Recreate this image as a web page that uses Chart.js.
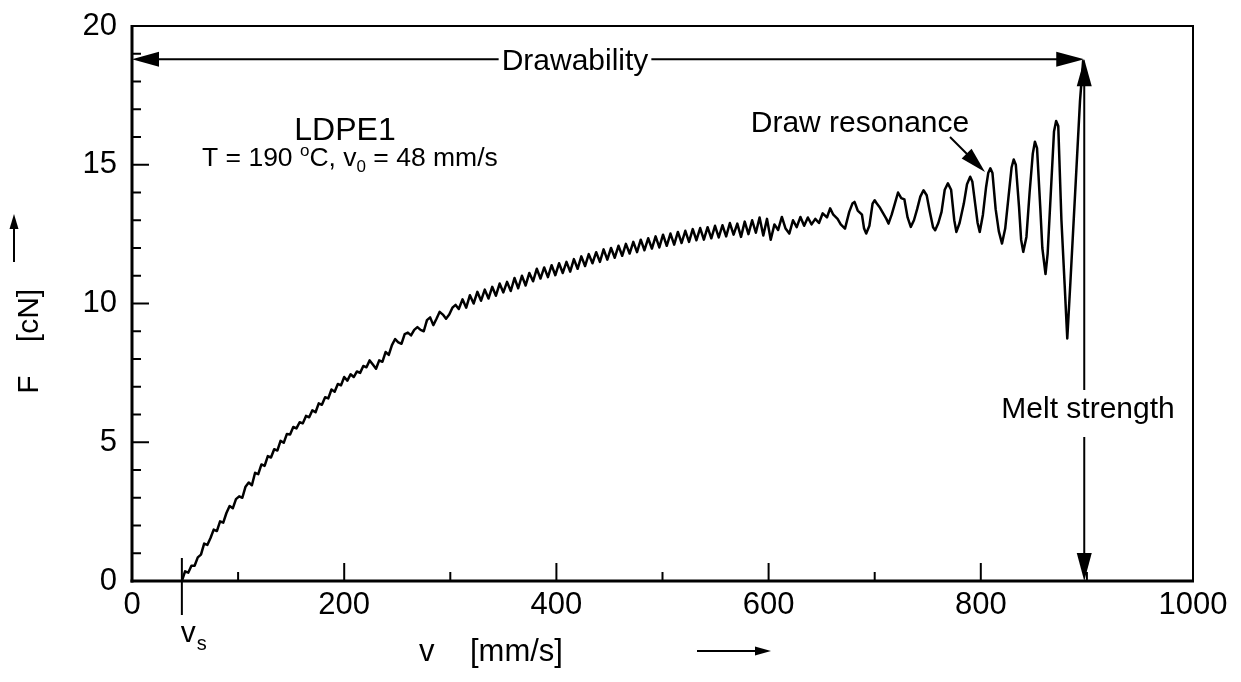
<!DOCTYPE html>
<html>
<head>
<meta charset="utf-8">
<script src="https://cdn.jsdelivr.net/npm/chart.js@4.4.1/dist/chart.umd.min.js"></script>
<style>
  html, body { margin: 0; padding: 0; background: #fff; }
  canvas { display: block; }
</style>
</head>
<body>
<canvas id="chart" width="1241" height="682"></canvas>
<script>
// tick labels
const vTicks = [0, 200, 400, 600, 800, 1000];
const fTicks = [0, 5, 10, 15, 20];

// start-up ramp (v in mm/s, F in cN)
const rampV = [47, 50, 53, 56, 59, 62, 65, 68, 71, 74, 77, 80, 83, 86, 89, 92, 95, 98, 101, 104,
  107, 110, 113, 116, 119, 122, 125, 128, 131, 134, 137, 140, 143, 146, 149, 152, 155, 158, 161, 164,
  167, 170, 173, 176, 179, 182, 185, 188, 191, 194, 197, 200, 203, 206, 209, 212, 215, 218, 221, 224,
  227, 230, 233, 236, 239, 242, 245, 248, 251, 254, 257, 260, 263, 266, 269, 272, 275, 278, 281, 284,
  287, 290, 293, 296, 299, 302, 305, 308];
const rampF = [0.00, 0.35, 0.30, 0.55, 0.55, 0.85, 0.95, 1.35, 1.30, 1.55, 1.85, 1.80, 2.15, 2.10, 2.45, 2.70, 2.62, 2.95, 3.05, 3.00,
  3.40, 3.55, 3.45, 3.90, 3.85, 4.20, 4.15, 4.50, 4.45, 4.75, 4.70, 5.05, 4.98, 5.30, 5.28, 5.55, 5.50, 5.72, 5.68, 5.95,
  5.90, 6.15, 6.08, 6.40, 6.35, 6.62, 6.58, 6.90, 6.82, 7.10, 7.05, 7.35, 7.22, 7.45, 7.35, 7.55, 7.50, 7.75, 7.70, 7.95,
  7.80, 7.65, 7.95, 7.90, 8.25, 8.15, 8.50, 8.72, 8.60, 8.55, 8.90, 8.95, 8.85, 9.05, 9.15, 9.05, 9.00, 9.40, 9.50, 9.22,
  9.45, 9.70, 9.60, 9.45, 9.60, 9.85, 9.95, 9.80];

// steady drawing with fine ripple
const rippleV = [311.5, 315, 318.5, 322, 325.5, 329, 332.5, 336, 339.5, 343,
  346.5, 350, 353.5, 357, 360.5, 364, 367.5, 371, 374.5, 378,
  381.5, 385, 388.5, 392, 395.5, 399, 402.5, 406, 409.5, 413,
  416.5, 420, 423.5, 427, 430.5, 434, 437.5, 441, 444.5, 448,
  451.5, 455, 458.5, 462, 465.5, 469, 472.5, 476, 479.5, 483,
  486.5, 490, 493.5, 497, 500.5, 504, 507.5, 511, 514.5, 518,
  521.5, 525, 528.5, 532, 535.5, 539, 542.5, 546, 549.5, 553,
  556.5, 560, 563.5, 567, 570.5, 574, 577.5, 581, 584.5, 588,
  591.5, 595, 598.5, 602, 605.5, 609, 612.5, 616, 619.5, 623,
  626.5, 630, 633.5, 637, 640.5, 644, 647.5, 651];
const rippleF = [10.15, 9.85, 10.30, 10.00, 10.42, 10.10, 10.50, 10.18, 10.60, 10.28,
  10.72, 10.40, 10.78, 10.45, 10.92, 10.55, 11.00, 10.65, 11.10, 10.80,
  11.25, 10.90, 11.30, 10.95, 11.38, 11.02, 11.45, 11.10, 11.50, 11.15,
  11.60, 11.25, 11.70, 11.35, 11.78, 11.45, 11.85, 11.50, 11.95, 11.58,
  12.00, 11.65, 12.08, 11.72, 12.15, 11.80, 12.22, 11.85, 12.30, 11.92,
  12.35, 11.98, 12.42, 12.02, 12.48, 12.08, 12.52, 12.12, 12.58, 12.18,
  12.62, 12.22, 12.68, 12.28, 12.72, 12.30, 12.75, 12.35, 12.80, 12.38,
  12.82, 12.42, 12.90, 12.48, 12.88, 12.40, 12.95, 12.50, 13.00, 12.55,
  13.10, 12.45, 13.05, 12.30, 12.85, 12.65, 13.12, 12.70, 12.52, 13.00,
  12.75, 13.12, 12.80, 13.10, 12.85, 13.05, 12.90, 13.25];

// draw resonance until the filament breaks
const resonanceV = [655, 658, 661, 665, 668, 672, 676, 679, 681, 684,
  688, 690, 692, 695, 698, 700, 702, 705, 708, 711,
  713, 716, 719, 722, 725, 728, 731, 734, 737, 740,
  743, 746, 749, 752, 755, 757, 760, 763, 766, 769,
  772, 775, 777, 780, 784, 787, 790, 792, 795, 797,
  799, 802, 805, 807, 809, 811, 814, 817, 820, 823,
  826, 829, 831, 833, 836, 838, 840, 843, 846, 849,
  851, 853, 856, 858, 861, 863, 866, 869, 871, 873,
  876, 879, 881.5, 884.5, 889.5, 893.5, 896.5];
const resonanceF = [13.10, 13.43, 13.20, 13.05, 12.85, 12.70, 13.30, 13.60, 13.66, 13.35,
  13.20, 12.70, 12.52, 12.80, 13.60, 13.72, 13.60, 13.45, 13.25, 13.05,
  12.88, 13.20, 13.60, 14.00, 13.80, 13.75, 13.10, 12.76, 13.00, 13.40,
  13.85, 14.08, 13.90, 13.30, 12.75, 12.64, 12.90, 13.30, 14.10, 14.33,
  14.10, 13.00, 12.58, 12.90, 13.60, 14.30, 14.57, 14.40, 13.50, 12.90,
  12.58, 13.20, 14.20, 14.70, 14.87, 14.70, 13.40, 12.60, 12.16, 12.70,
  13.80, 14.90, 15.19, 15.00, 13.50, 12.30, 11.86, 12.40, 14.00, 15.40,
  15.83, 15.60, 13.50, 12.00, 11.06, 11.80, 14.00, 16.20, 16.58, 16.40,
  13.00, 10.70, 8.74, 10.80, 14.40, 17.30, 18.77];

// markers
const vStart = 47;          // v_s
const drawabilityF = 18.8;  // level of the drawability arrow
const breakV = 897.5;       // melt strength arrow

const velocity = rampV.concat(rippleV, resonanceV);
const force = rampF.concat(rippleF, resonanceF);

const FONT = '"Liberation Sans", Arial, Helvetica, sans-serif';

function head(ctx, x, y, ang, len, half) {
  ctx.save();
  ctx.translate(x, y);
  ctx.rotate(ang);
  ctx.beginPath();
  ctx.moveTo(0, 0);
  ctx.lineTo(-len, -half);
  ctx.lineTo(-len, half);
  ctx.closePath();
  ctx.fill();
  ctx.restore();
}

function line(ctx, x1, y1, x2, y2, w) {
  ctx.lineWidth = w;
  ctx.beginPath();
  ctx.moveTo(x1, y1);
  ctx.lineTo(x2, y2);
  ctx.stroke();
}

const decor = {
  id: 'decor',
  afterDraw(chart) {
    const ctx = chart.ctx;
    const a = chart.chartArea;
    const xs = chart.scales.x, ys = chart.scales.y;
    ctx.save();
    ctx.strokeStyle = '#000';
    ctx.fillStyle = '#000';
    ctx.lineCap = 'butt';

    // frame
    line(ctx, a.left, a.top, a.right + 1, a.top, 2);
    line(ctx, a.right, a.top, a.right, a.bottom, 2);
    line(ctx, a.left, a.top - 1, a.left, a.bottom + 1.5, 3);
    line(ctx, a.left - 1.5, a.bottom, a.right + 1, a.bottom, 3);

    // ticks, pointing inwards
    for (let v = 100; v < 1000; v += 100) {
      const x = xs.getPixelForValue(v);
      line(ctx, x, a.bottom, x, a.bottom - (v % 200 === 0 ? 18 : 9), 2);
    }
    for (let f = 1; f < 20; f++) {
      const y = ys.getPixelForValue(f);
      line(ctx, a.left, y, a.left + (f % 5 === 0 ? 17 : 9), y, 2);
    }

    // v_s marker
    const xv = xs.getPixelForValue(vStart);
    line(ctx, xv, a.bottom - 23, xv, a.bottom + 34, 2);
    ctx.textAlign = 'left';
    ctx.textBaseline = 'alphabetic';
    ctx.font = '30px ' + FONT;
    ctx.fillText('v', xv - 1, 642);
    ctx.font = '20px ' + FONT;
    ctx.fillText('s', xv + 15, 650);

    // drawability arrow
    const yd = ys.getPixelForValue(drawabilityF);
    const xb = xs.getPixelForValue(breakV);
    ctx.font = '30px ' + FONT;
    const dText = 'Drawability';
    const dw = ctx.measureText(dText).width;
    const dCx = 575;
    line(ctx, a.left + 20, yd, dCx - dw / 2 - 3, yd, 2);
    line(ctx, dCx + dw / 2 + 3, yd, xb - 20, yd, 2);
    head(ctx, a.left, yd, Math.PI, 27, 7.5);
    head(ctx, xb, yd, 0, 28, 7.5);
    ctx.textAlign = 'center';
    ctx.fillText(dText, dCx, yd + 11);

    // melt strength arrow
    const y0 = ys.getPixelForValue(0);
    line(ctx, xb, yd + 20, xb, 390, 2);
    line(ctx, xb, 437, xb, y0 - 20, 2);
    head(ctx, xb, yd, -Math.PI / 2, 27, 7.5);
    head(ctx, xb, y0, Math.PI / 2, 28, 7.5);
    ctx.fillText('Melt strength', 1088, 418);

    // draw resonance
    ctx.fillText('Draw resonance', 860, 132);
    const ang = Math.atan2(172 - 137, 985 - 950);
    line(ctx, 950, 137, 975, 162, 2);
    head(ctx, 985, 172, ang, 26, 7);

    // sample info
    ctx.font = '32px ' + FONT;
    ctx.fillText('LDPE1', 345, 140);
    ctx.textAlign = 'left';
    let x = 202;
    const yb = 166;
    const put = (s, size, dy) => {
      ctx.font = size + 'px ' + FONT;
      ctx.fillText(s, x, yb + dy);
      x += ctx.measureText(s).width;
    };
    put('T = 190 ', 26.5, 0);
    put('o', 17, -10);
    put('C, v', 26.5, 0);
    put('0', 17, 6);
    put(' = 48 mm/s', 26.5, 0);

    // axis titles
    ctx.font = '31px ' + FONT;
    ctx.textAlign = 'left';
    ctx.fillText('v', 419, 661);
    ctx.fillText('[mm/s]', 470, 661);
    line(ctx, 697, 651, 756, 651, 2);
    head(ctx, 771, 651, 0, 16, 4.5);

    ctx.save();
    ctx.translate(38, 0);
    ctx.rotate(-Math.PI / 2);
    ctx.textAlign = 'center';
    ctx.font = '30px ' + FONT;
    ctx.fillText('F', -384.5, 0);
    ctx.fillText('[cN]', -315.5, 0);
    ctx.restore();
    line(ctx, 14, 262, 14, 228, 2);
    head(ctx, 14, 214, -Math.PI / 2, 15, 4.5);

    ctx.restore();
  }
};

new Chart(document.getElementById('chart'), {
  type: 'scatter',
  data: {
    datasets: [{
      data: velocity.map((v, i) => ({ x: v, y: force[i] })),
      showLine: true,
      borderColor: '#000',
      borderWidth: 2.5,
      borderJoinStyle: 'round',
      pointRadius: 0,
      tension: 0,
      clip: 10
    }]
  },
  options: {
    responsive: false,
    animation: false,
    events: [],
    layout: { padding: { left: 0, right: 48, top: 26, bottom: 0 } },
    plugins: { legend: { display: false }, tooltip: { enabled: false } },
    scales: {
      x: {
        type: 'linear', min: 0, max: 1000,
        afterBuildTicks: s => { s.ticks = vTicks.map(v => ({ value: v })); },
        afterFit: s => { s.height = 101; s.paddingLeft = 0; s.paddingRight = 0; },
        ticks: { color: '#000', font: { family: FONT, size: 31 }, padding: 6, maxRotation: 0, callback: v => String(v) },
        grid: { display: false, drawTicks: false },
        border: { display: false }
      },
      y: {
        type: 'linear', min: 0, max: 20,
        afterBuildTicks: s => { s.ticks = fTicks.map(v => ({ value: v })); },
        afterFit: s => { s.width = 132; s.paddingTop = 0; s.paddingBottom = 0; },
        ticks: { color: '#000', font: { family: FONT, size: 31 }, padding: 15, callback: v => String(v) },
        grid: { display: false, drawTicks: false },
        border: { display: false }
      }
    }
  },
  plugins: [decor]
});
</script>
</body>
</html>
